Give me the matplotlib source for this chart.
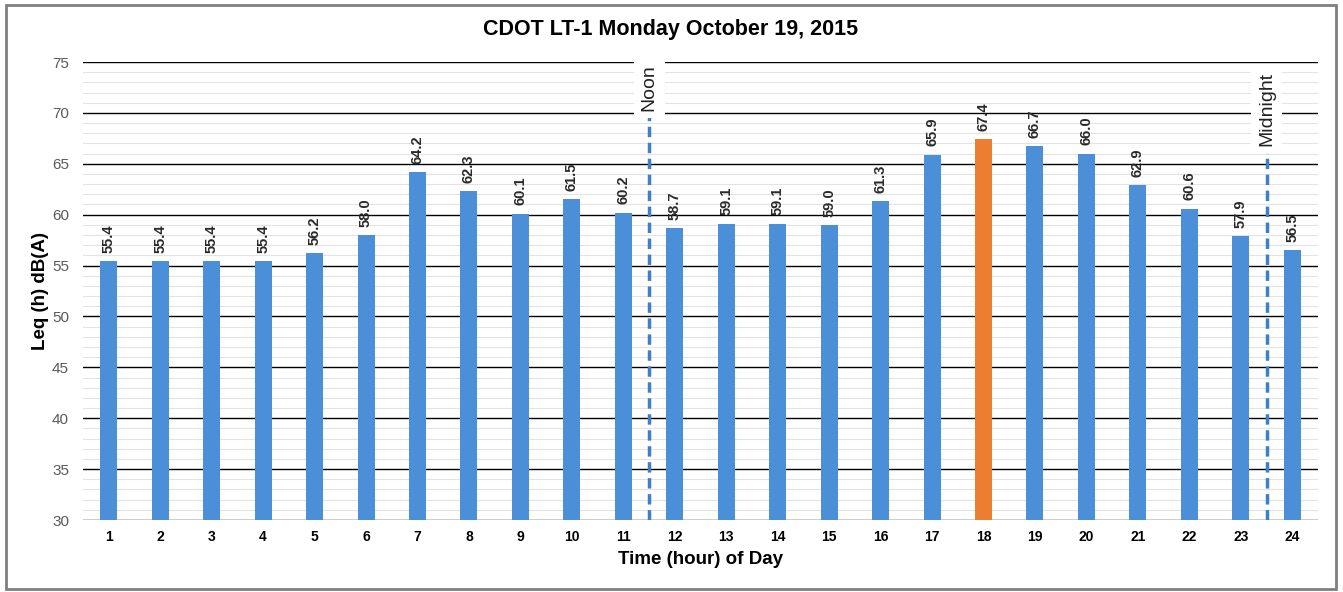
import matplotlib
matplotlib.use("Agg")
import matplotlib.pyplot as plt
from matplotlib.patches import Rectangle

plt.rcParams['font.family'] = ['Liberation Sans', 'DejaVu Sans']

hours = list(range(1, 25))
leq = [55.4, 55.4, 55.4, 55.4, 56.2, 58.0, 64.2, 62.3, 60.1, 61.5, 60.2, 58.7,
       59.1, 59.1, 59.0, 61.3, 65.9, 67.4, 66.7, 66.0, 62.9, 60.6, 57.9, 56.5]
peak_hour = 18
title = "CDOT LT-1 Monday October 19, 2015"
markers = [(11.5, "Noon", 69.6, 70.2), (23.5, "Midnight", 66.2, 66.7)]

blue = '#4a8fd8'
orange = '#ed7d31'

fig = plt.figure(figsize=(13.43, 5.92), dpi=100)
ax = fig.add_axes([83/1343, 1 - 520/592, (1318-83)/1343, (520-62)/592])

colors = [orange if h == peak_hour else blue for h in hours]
ax.bar(hours, [v - 30 for v in leq], bottom=30, width=0.33, color=colors, zorder=3)

for h, v in zip(hours, leq):
    ax.annotate(f"{v:.1f}", (h, v), xytext=(0, 6), textcoords='offset points',
                rotation=90, ha='center', va='bottom', fontsize=10.5,
                fontweight='bold', color='#2a2a2a', zorder=4)

ax.set_xlim(0.5, 24.5)
ax.set_ylim(30, 75)
ax.set_yticks(range(30, 76, 5))
ax.set_yticks(range(30, 76, 1), minor=True)
ax.set_xticks(hours)
ax.set_xticklabels([str(h) for h in hours], fontweight='bold', fontsize=10)
ax.tick_params(axis='x', length=0, pad=7, colors='black')
ax.tick_params(axis='y', which='both', length=0, pad=10, labelsize=11, labelcolor='#595959')
ax.grid(axis='y', which='major', color='black', linewidth=1.0, zorder=1)
ax.grid(axis='y', which='minor', color='#e3e3e3', linewidth=0.8, zorder=0)
for s in ax.spines.values():
    s.set_visible(False)

for x, label, line_top, text_y in markers:
    ax.plot([x, x], [30, line_top], color='#3f7fc8', linewidth=2.5,
            linestyle=(0, (3, 1.6)), zorder=5, solid_capstyle='butt')
    ax.text(x, text_y, label, rotation=90, ha='center', va='bottom', fontsize=14,
            color='#222222', zorder=6,
            bbox=dict(facecolor='white', edgecolor='none', pad=5))

fig.text(671/1343, 1 - 29/592, title, fontsize=15.5, fontweight='bold',
         ha='center', va='center')
ax.set_xlabel("Time (hour) of Day", fontsize=13.5, fontweight='bold', labelpad=5)
ax.set_ylabel("Leq (h) dB(A)", fontsize=13.5, fontweight='bold', labelpad=2)

fig.patches.append(Rectangle((6/1343, 3/592), (1336-6)/1343, (587-3)/592,
                             transform=fig.transFigure, fill=False,
                             edgecolor='#7f7f7f', linewidth=2))

fig.savefig("out.png", dpi=100)
